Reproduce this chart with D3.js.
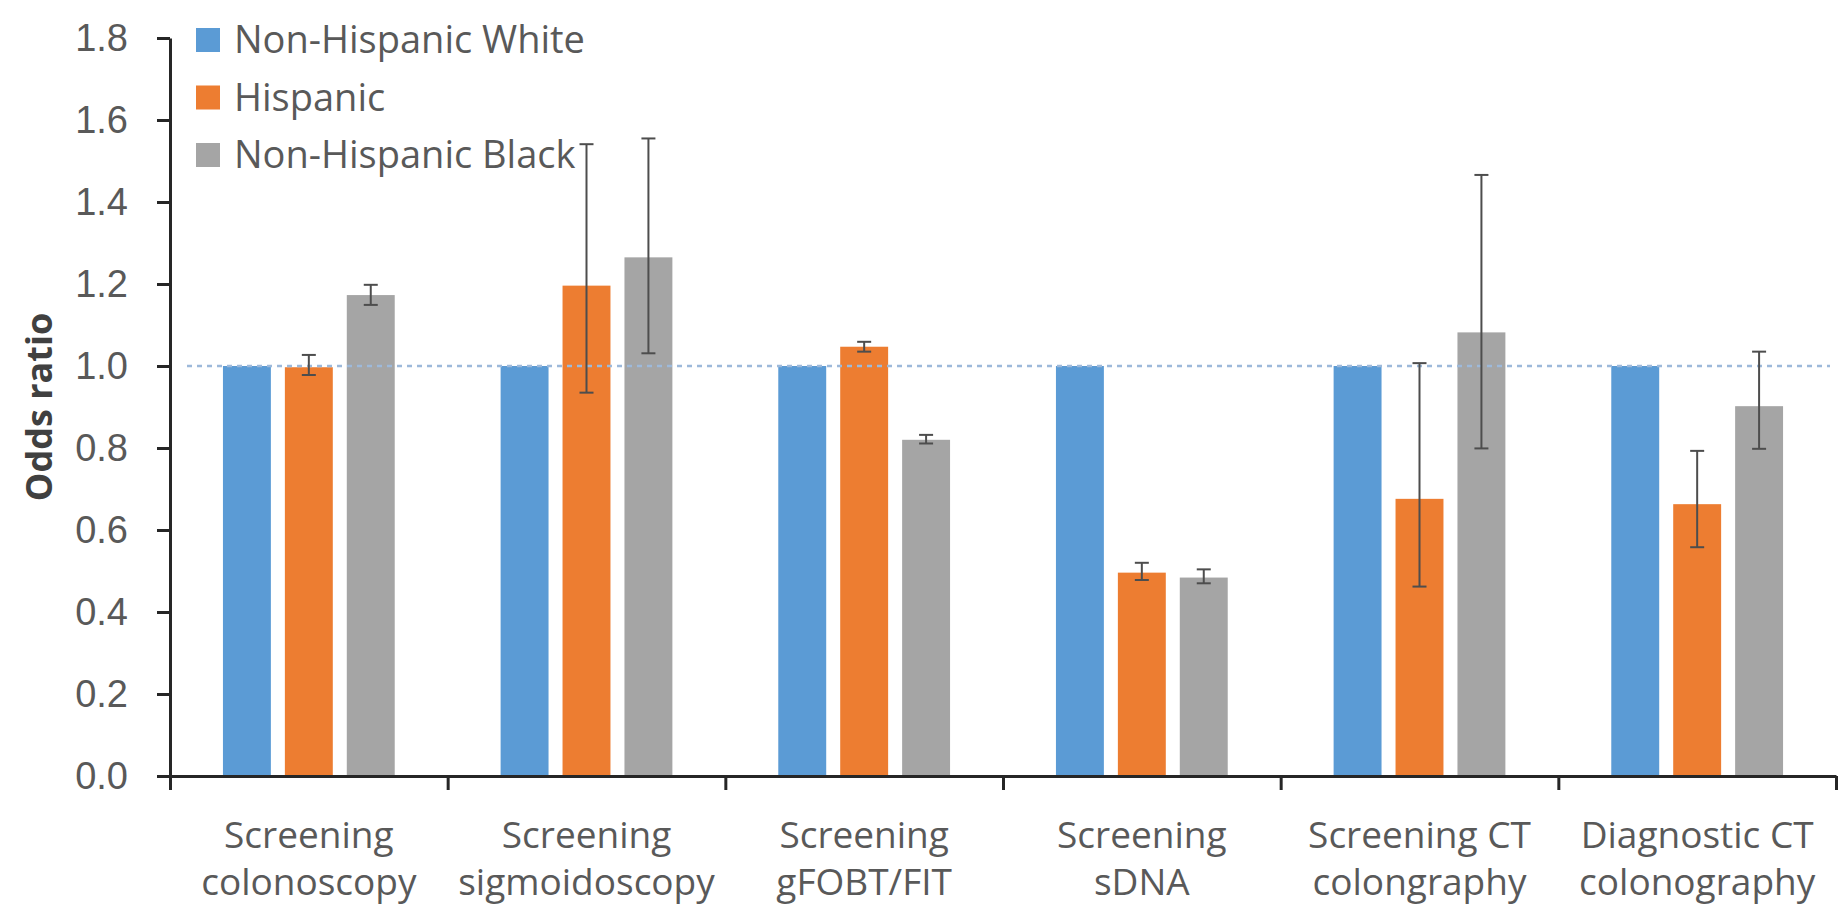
<!DOCTYPE html>
<html>
<head>
<meta charset="utf-8">
<script src="https://cdn.jsdelivr.net/npm/d3@7/dist/d3.min.js"></script>
<style>
  html, body { margin: 0; padding: 0; background: #ffffff; }
  svg { display: block; font-family: "Open Sans", "Liberation Sans", sans-serif; }
</style>
</head>
<body>
<svg id="chart" width="1839" height="915"></svg>
<script>
// Screening modality categories (two-line labels split on "|")
const categories = [
  "Screening|colonoscopy",
  "Screening|sigmoidoscopy",
  "Screening|gFOBT/FIT",
  "Screening|sDNA",
  "Screening CT|colongraphy",
  "Diagnostic CT|colonography"
];
const seriesNames = ["Non-Hispanic White", "Hispanic", "Non-Hispanic Black"];
const seriesColors = ["#5B9BD5", "#ED7D31", "#A5A5A5"];

// Odds ratios (reference group = Non-Hispanic White)
const whiteOR    = [1.000, 1.000, 1.000, 1.000, 1.000, 1.000];
const hispanicOR = [0.997, 1.196, 1.047, 0.496, 0.676, 0.663];
const hispanicLo = [0.978, 0.935, 1.035, 0.478, 0.462, 0.558];
const hispanicHi = [1.027, 1.541, 1.059, 0.520, 1.007, 0.793];
const blackOR    = [1.173, 1.265, 0.820, 0.484, 1.082, 0.902];
const blackLo    = [1.149, 1.031, 0.811, 0.470, 0.799, 0.798];
const blackHi    = [1.198, 1.555, 0.832, 0.504, 1.466, 1.035];

const yTicks = [0, 0.2, 0.4, 0.6, 0.8, 1.0, 1.2, 1.4, 1.6, 1.8];
const referenceValue = 1.0;

// Build per-series records
const seriesData = [
  { name: seriesNames[0], values: whiteOR, lo: null, hi: null },
  { name: seriesNames[1], values: hispanicOR, lo: hispanicLo, hi: hispanicHi },
  { name: seriesNames[2], values: blackOR, lo: blackLo, hi: blackHi }
];

const svg = d3.select("#chart");
const plotLeft = 170, plotRight = 1836, plotTop = 38, plotBottom = 776;

const x = d3.scaleBand()
  .domain(categories)
  .range([plotLeft, plotRight])
  .paddingInner(0)
  .paddingOuter(0);

const xInner = d3.scaleBand()
  .domain(seriesNames)
  .range([0, x.bandwidth()])
  .paddingInner(0.226)
  .paddingOuter(0.855);

const y = d3.scaleLinear()
  .domain([0, 1.8])
  .range([plotBottom, plotTop]);

const color = d3.scaleOrdinal().domain(seriesNames).range(seriesColors);

// Bars
const groups = svg.append("g").attr("class", "bars")
  .selectAll("g")
  .data(seriesData)
  .join("g")
  .attr("fill", d => color(d.name));

groups.selectAll("rect")
  .data(s => categories.map((c, i) => ({ c, v: s.values[i], name: s.name })))
  .join("rect")
  .attr("x", d => x(d.c) + xInner(d.name))
  .attr("y", d => y(d.v))
  .attr("width", xInner.bandwidth())
  .attr("height", d => y(0) - y(d.v));

// Reference line at OR = 1
svg.append("line")
  .attr("x1", x.range()[0] + 17)
  .attr("x2", x.range()[1] - 6)
  .attr("y1", y(referenceValue))
  .attr("y2", y(referenceValue))
  .attr("stroke", "#9DB9DA")
  .attr("stroke-width", 2.5)
  .attr("stroke-dasharray", "5,5");

// Error bars (95% CI)
const errData = [];
seriesData.forEach(s => {
  if (!s.lo) return;
  categories.forEach((c, i) => {
    errData.push({ c, name: s.name, lo: s.lo[i], hi: s.hi[i] });
  });
});
const capHalf = 7;
const err = svg.append("g").attr("class", "errors")
  .attr("stroke", "#4D4D4D")
  .attr("stroke-width", 2)
  .selectAll("g")
  .data(errData)
  .join("g")
  .attr("transform", d => `translate(${x(d.c) + xInner(d.name) + xInner.bandwidth() / 2},0)`);
err.append("line").attr("x1", 0).attr("x2", 0)
  .attr("y1", d => y(d.hi)).attr("y2", d => y(d.lo));
err.append("line").attr("x1", -capHalf).attr("x2", capHalf)
  .attr("y1", d => y(d.hi)).attr("y2", d => y(d.hi));
err.append("line").attr("x1", -capHalf).attr("x2", capHalf)
  .attr("y1", d => y(d.lo)).attr("y2", d => y(d.lo));

// Y axis
const yAxis = svg.append("g")
  .attr("transform", `translate(${plotLeft},0)`)
  .call(d3.axisLeft(y)
    .tickValues(yTicks)
    .tickFormat(d3.format(".1f"))
    .tickSize(13)
    .tickSizeOuter(0)
    .tickPadding(29));
yAxis.select(".domain").attr("stroke", "#262626").attr("stroke-width", 3);
yAxis.selectAll(".tick line").attr("stroke", "#262626").attr("stroke-width", 3);
yAxis.selectAll(".tick text")
  .attr("fill", "#595959")
  .style("font-size", "38px");

// X axis: boundary ticks between categories
const xBound = d3.scaleLinear().domain([0, categories.length]).range([plotLeft, plotRight]);
const xAxis = svg.append("g")
  .attr("transform", `translate(0,${plotBottom})`)
  .call(d3.axisBottom(xBound)
    .tickValues(d3.range(0, categories.length + 1))
    .tickFormat("")
    .tickSize(14)
    .tickSizeOuter(0));
xAxis.select(".domain").attr("stroke", "#262626").attr("stroke-width", 3);
xAxis.selectAll(".tick line").attr("stroke", "#262626").attr("stroke-width", 3);

// Category labels
const labels = svg.append("g").attr("class", "xlabels")
  .selectAll("text")
  .data(categories)
  .join("text")
  .attr("text-anchor", "middle")
  .attr("fill", "#595959")
  .style("font-size", "37px");
labels.each(function (d) {
  const parts = d.split("|");
  const t = d3.select(this);
  parts.forEach((p, i) => {
    t.append("tspan")
      .attr("x", x(d) + x.bandwidth() / 2)
      .attr("y", 848 + i * 47)
      .text(p);
  });
});

// Y axis title
svg.append("text")
  .attr("transform", `translate(52,${(plotTop + plotBottom) / 2}) rotate(-90)`)
  .attr("text-anchor", "middle")
  .attr("fill", "#404040")
  .style("font-size", "36px")
  .style("font-weight", "bold")
  .text("Odds ratio");

// Legend
const legend = svg.append("g").attr("class", "legend")
  .selectAll("g")
  .data(seriesNames)
  .join("g")
  .attr("transform", (d, i) => `translate(196,${40 + i * 57.5})`);
legend.append("rect")
  .attr("x", 0).attr("y", -12)
  .attr("width", 24).attr("height", 24)
  .attr("fill", d => color(d));
legend.append("text")
  .attr("x", 38).attr("y", 0)
  .attr("dy", "0.35em")
  .attr("fill", "#595959")
  .style("font-size", "38px")
  .text(d => d);
</script>
</body>
</html>
